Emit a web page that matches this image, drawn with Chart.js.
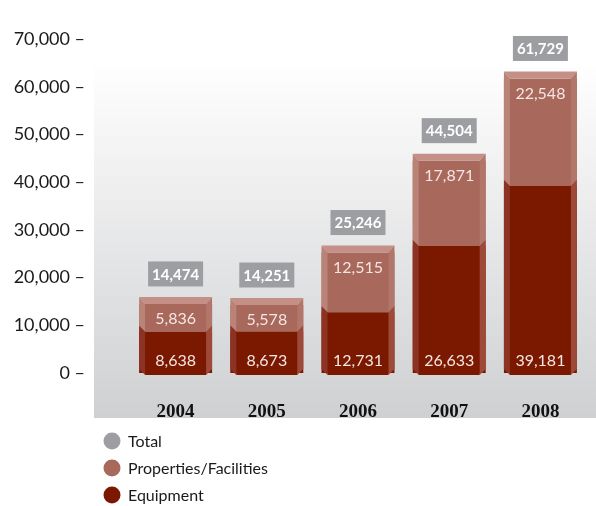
<!DOCTYPE html>
<html>
<head>
<meta charset="utf-8">
<script src="https://cdn.jsdelivr.net/npm/chart.js@4/dist/chart.umd.min.js"></script>
<style>
  html, body { margin: 0; padding: 0; background: #fff; }
  #wrap { width: 596px; height: 506px; position: relative; }
</style>
</head>
<body>
<div id="wrap"><canvas id="chart-capex"></canvas></div>
<script>
const years = ['2004', '2005', '2006', '2007', '2008'];
const equipment = [8638, 8673, 12731, 26633, 39181];
const properties = [5836, 5578, 12515, 17871, 22548];
const totals = [14474, 14251, 25246, 44504, 61729];
const legendLabels = ['Total', 'Properties/Facilities', 'Equipment'];
const legendColors = ['#9d9ea2', '#a8685b', '#7a1800'];

const fmt = v => v.toLocaleString('en-US');
const SANS = 'Lato, "Open Sans", sans-serif';

function poly(ctx, pts, color) {
  ctx.beginPath();
  ctx.moveTo(pts[0][0], pts[0][1]);
  for (let i = 1; i < pts.length; i++) ctx.lineTo(pts[i][0], pts[i][1]);
  ctx.closePath();
  ctx.fillStyle = color;
  ctx.fill();
}

// grey gradient panel behind the bars
const panelPlugin = {
  id: 'panel',
  beforeDraw(chart) {
    const { ctx, scales: { y } } = chart;
    const bottom = y.bottom + 45;
    const g = ctx.createLinearGradient(0, 60, 0, bottom);
    g.addColorStop(0, '#ffffff');
    g.addColorStop(1, '#cfd0d2');
    ctx.save();
    ctx.fillStyle = g;
    ctx.fillRect(94, 0, chart.width - 94, bottom);
    ctx.restore();
  },
};

// bevels, in-bar values, total boxes
const bevelPlugin = {
  id: 'bevel',
  afterDatasetsDraw(chart) {
    const { ctx } = chart;
    const eqMeta = chart.getDatasetMeta(0);
    const prMeta = chart.getDatasetMeta(1);
    const s = 6, cap = 7;
    ctx.save();
    eqMeta.data.forEach((eq, i) => {
      const pr = prMeta.data[i];
      const x0 = eq.x - eq.width / 2, x1 = eq.x + eq.width / 2;
      const yTop = pr.y, yMid = eq.y, yBase = eq.base;
      // top cap
      poly(ctx, [[x0, yTop - cap], [x1, yTop - cap], [x1 - s, yTop], [x0 + s, yTop]], '#c48f86');
      // properties sides
      poly(ctx, [[x0, yTop - cap], [x0 + s, yTop], [x0 + s, yMid], [x0, yMid - s]], '#ba8378');
      poly(ctx, [[x1, yTop - cap], [x1 - s, yTop], [x1 - s, yMid], [x1, yMid - s]], '#b2766a');
      // equipment sides
      poly(ctx, [[x0, yMid - s], [x0 + s, yMid], [x0 + s, yBase + 2], [x0, yBase - 4]], '#8c3324');
      poly(ctx, [[x1, yMid - s], [x1 - s, yMid], [x1 - s, yBase + 2], [x1, yBase - 4]], '#9e4a3b');
      ctx.fillStyle = '#7a1800';
      ctx.fillRect(x0 + s, yBase, x1 - x0 - 2 * s, 2);

      // values inside bars
      ctx.fillStyle = '#f4e6e2';
      ctx.font = '16px ' + SANS;
      ctx.textAlign = 'center';
      ctx.textBaseline = 'middle';
      ctx.fillText(fmt(equipment[i]), eq.x, yBase - 12);
      ctx.fillText(fmt(properties[i]), eq.x, yTop + 15);

      // total box
      const ty = chart.scales.y.getPixelForValue(totals[i]) - 30;
      ctx.font = 'bold 15px ' + SANS;
      const tw = ctx.measureText(fmt(totals[i])).width + 8;
      ctx.fillStyle = '#9d9ea2';
      ctx.fillRect(eq.x - tw / 2, ty - 12.5, tw, 25);
      ctx.fillStyle = '#ffffff';
      ctx.fillText(fmt(totals[i]), eq.x, ty + 1);
    });
    ctx.restore();
  },
};

// vertical legend at bottom left
const legendPlugin = {
  id: 'sideLegend',
  afterDraw(chart) {
    const { ctx } = chart;
    ctx.save();
    legendLabels.forEach((lbl, i) => {
      const cy = 441 + i * 27;
      ctx.beginPath();
      ctx.arc(112, cy, 8.5, 0, Math.PI * 2);
      ctx.fillStyle = legendColors[i];
      ctx.fill();
      ctx.fillStyle = '#1a1a1a';
      ctx.font = '16px ' + SANS;
      ctx.textAlign = 'left';
      ctx.textBaseline = 'middle';
      ctx.fillText(lbl, 128, cy + 1);
    });
    ctx.restore();
  },
};

new Chart(document.getElementById('chart-capex'), {
  type: 'bar',
  data: {
    labels: years,
    datasets: [
      { label: 'Equipment', data: equipment, backgroundColor: '#7a1800', borderWidth: 0 },
      { label: 'Properties/Facilities', data: properties, backgroundColor: '#a8685b', borderWidth: 0 },
    ],
  },
  options: {
    responsive: true,
    maintainAspectRatio: false,
    animation: false,
    events: [],
    layout: { padding: { top: 39, right: 10, left: 0, bottom: 0 } },
    datasets: { bar: { categoryPercentage: 1, barPercentage: 0.8 } },
    plugins: { legend: { display: false }, tooltip: { enabled: false } },
    scales: {
      x: {
        stacked: true,
        grid: { display: false },
        border: { display: false },
        ticks: { color: '#111', font: { family: '"Liberation Serif", serif', size: 19, weight: 'bold' }, padding: 20 },
        afterFit: s => { s.height = 133; },
      },
      y: {
        stacked: true,
        min: 0,
        max: 70000,
        grid: { display: false, drawTicks: false },
        border: { display: false },
        ticks: {
          stepSize: 10000,
          color: '#1a1a1a',
          font: { family: SANS, size: 18 },
          padding: 45,
          callback: v => fmt(v) + ' \u2013',
        },
        afterFit: s => { s.width = 130; s.paddingTop = 0; s.paddingBottom = 0; },
      },
    },
  },
  plugins: [panelPlugin, bevelPlugin, legendPlugin],
});
</script>
</body>
</html>
